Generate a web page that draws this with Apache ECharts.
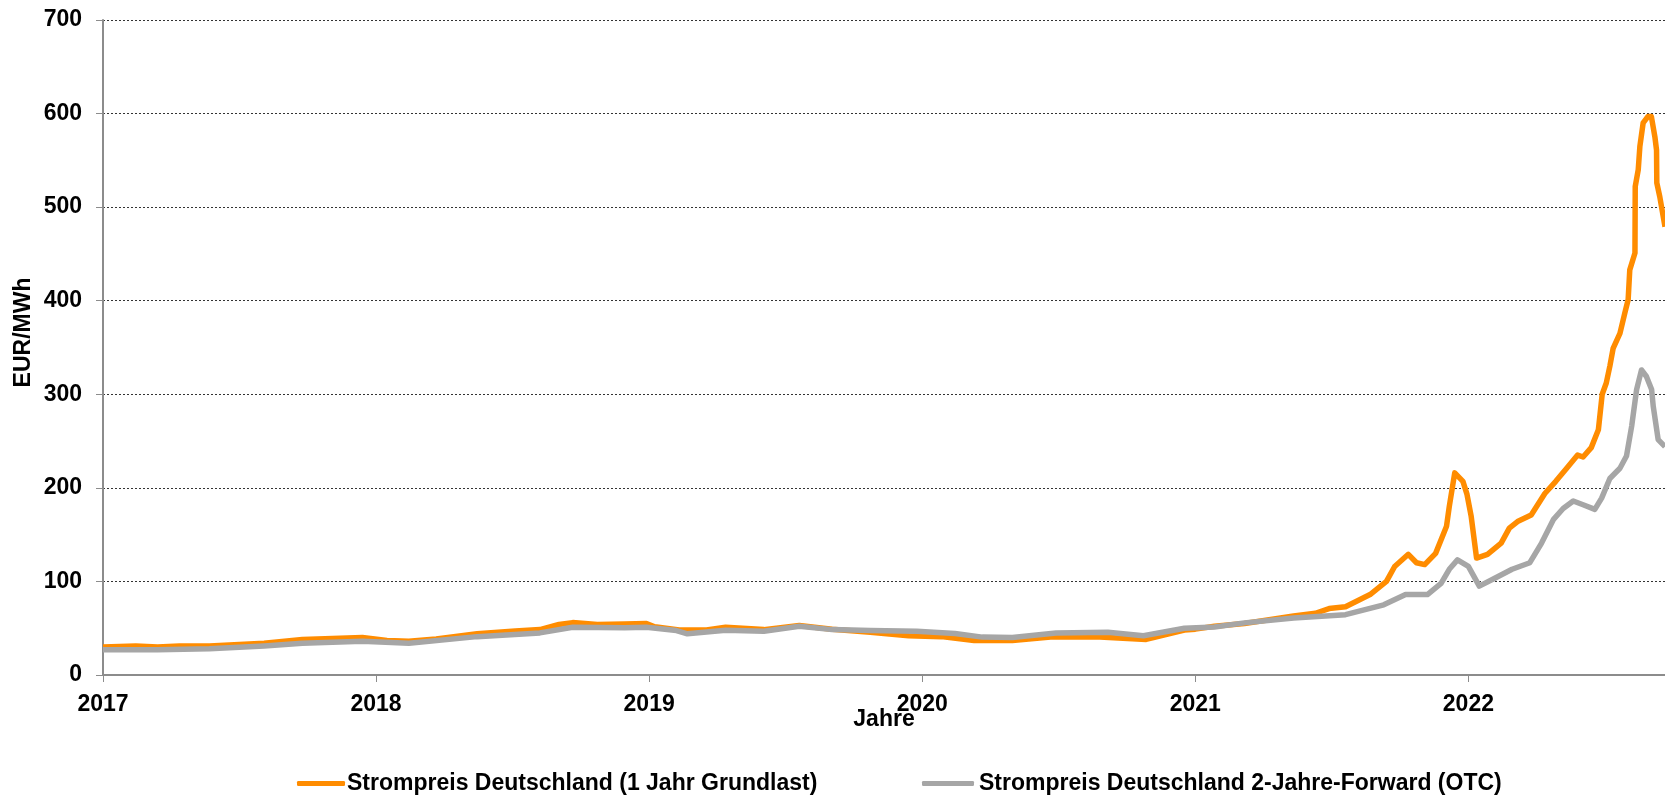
<!DOCTYPE html>
<html>
<head>
<meta charset="utf-8">
<script src="https://cdn.jsdelivr.net/npm/echarts@6/dist/echarts.min.js"></script>
<style>
  html, body { margin: 0; padding: 0; background: #fff; }
  #chart { width: 1665px; height: 796px; }
</style>
</head>
<body>
<div id="chart"></div>
<script>
// decimal year, EUR/MWh
var grundlast = [
  [2017.00, 30], [2017.12, 31], [2017.20, 30], [2017.28, 31], [2017.39, 31],
  [2017.59, 34], [2017.73, 38], [2017.95, 40], [2018.04, 37], [2018.12, 36],
  [2018.22, 38.5], [2018.37, 44], [2018.51, 47], [2018.60, 48.5], [2018.67, 54],
  [2018.72, 56], [2018.81, 54], [2018.91, 54.5], [2018.99, 55], [2019.02, 51.5],
  [2019.11, 48], [2019.21, 48], [2019.28, 51], [2019.42, 48.5], [2019.55, 53],
  [2019.67, 49], [2019.81, 45.6], [2019.95, 42], [2020.07, 41], [2020.19, 36.8],
  [2020.33, 36.8], [2020.47, 40.5], [2020.65, 40.5], [2020.82, 38], [2020.96, 48],
  [2021.00, 49], [2021.07, 52], [2021.18, 55], [2021.36, 63], [2021.44, 66],
  [2021.49, 71], [2021.55, 73], [2021.64, 86], [2021.70, 100], [2021.73, 116],
  [2021.78, 129], [2021.81, 120], [2021.84, 118], [2021.88, 130], [2021.92, 159],
  [2021.93, 180], [2021.95, 216], [2021.98, 207], [2021.995, 193], [2022.01, 170],
  [2022.03, 125], [2022.07, 129], [2022.12, 141], [2022.15, 157], [2022.18, 164],
  [2022.23, 171], [2022.28, 194], [2022.32, 207], [2022.36, 221], [2022.40, 235],
  [2022.42, 233], [2022.45, 243], [2022.476, 262], [2022.49, 300], [2022.505, 312],
  [2022.518, 330], [2022.530, 349], [2022.555, 365], [2022.573, 387], [2022.585, 401],
  [2022.591, 433], [2022.610, 451], [2022.611, 522], [2022.622, 540], [2022.628, 565],
  [2022.640, 590], [2022.658, 597], [2022.670, 597], [2022.683, 575], [2022.689, 561],
  [2022.690, 526], [2022.701, 511], [2022.720, 479]
];

var forward = [
  [2017.00, 27], [2017.20, 27], [2017.39, 28], [2017.59, 31], [2017.73, 34],
  [2017.95, 36], [2018.12, 34], [2018.37, 41], [2018.60, 45], [2018.72, 51],
  [2018.91, 50.5], [2018.99, 51], [2019.10, 47.5], [2019.14, 44], [2019.28, 47.8],
  [2019.42, 46.8], [2019.55, 52], [2019.67, 48.5], [2019.81, 47.5], [2019.98, 46.8],
  [2020.12, 44.3], [2020.22, 40.5], [2020.33, 40], [2020.49, 45], [2020.68, 45.6],
  [2020.81, 42], [2020.96, 50], [2021.07, 51.4], [2021.18, 55.7], [2021.36, 61],
  [2021.55, 64.5], [2021.69, 75], [2021.77, 86], [2021.85, 86], [2021.90, 98],
  [2021.93, 113], [2021.96, 123], [2022.00, 116], [2022.04, 95], [2022.10, 104],
  [2022.16, 113], [2022.225, 120], [2022.268, 141], [2022.311, 166], [2022.347, 178],
  [2022.384, 186], [2022.420, 182], [2022.463, 177], [2022.488, 189], [2022.518, 210],
  [2022.555, 221], [2022.579, 234], [2022.598, 266], [2022.616, 305], [2022.634, 326],
  [2022.652, 319], [2022.671, 305], [2022.677, 287], [2022.695, 251.5], [2022.720, 244]
];

var yearTicks = [2017, 2018, 2019, 2020, 2021, 2022];
var seriesNames = [
  'Strompreis Deutschland (1 Jahr Grundlast)',
  'Strompreis Deutschland 2-Jahre-Forward (OTC)'
];

var font = "'Liberation Sans', Arial, sans-serif";
var textBase = { color: '#000', fontFamily: font, fontWeight: 'bold', fontSize: 23 };

var chart = echarts.init(document.getElementById('chart'));

chart.setOption({
  animation: false,
  backgroundColor: '#fff',
  grid: { left: 103, right: 0, top: 20, bottom: 121, containLabel: false },
  legend: [
    {
      data: [seriesNames[0]], left: 292, top: 767,
      itemWidth: 48, itemHeight: 5, icon: 'roundRect', itemGap: 0,
      itemStyle: { color: '#FF8C00' },
      textStyle: Object.assign({}, textBase, { padding: [0, 0, 0, -3] })
    },
    {
      data: [seriesNames[1]], left: 917, top: 767,
      itemWidth: 52, itemHeight: 5, icon: 'roundRect', itemGap: 0,
      itemStyle: { color: '#A6A6A6' },
      textStyle: Object.assign({}, textBase, { padding: [0, 0, 0, 0] })
    }
  ],
  xAxis: {
    type: 'value',
    min: 2017,
    max: 2022.72,
    interval: 1,
    name: 'Jahre',
    nameLocation: 'middle',
    nameGap: 33,
    nameMoveOverlap: false,
    nameTextStyle: textBase,
    axisLine: { lineStyle: { color: '#8c8c8c', width: 2 } },
    axisTick: { show: true, length: 7, lineStyle: { color: '#8c8c8c', width: 1 } },
    axisLabel: Object.assign({}, textBase, {
      margin: 18,
      showMaxLabel: false,
      formatter: function (v) {
        return yearTicks.indexOf(v) >= 0 ? String(v) : '';
      }
    }),
    splitLine: { show: false }
  },
  yAxis: {
    type: 'value',
    min: 0,
    max: 700,
    interval: 100,
    name: 'EUR/MWh',
    nameLocation: 'middle',
    nameGap: 68,
    nameMoveOverlap: false,
    nameTextStyle: Object.assign({}, textBase, { padding: [0, 0, 0, 30] }),
    axisLine: { show: true, lineStyle: { color: '#8c8c8c', width: 2 } },
    axisTick: { show: true, length: 7, lineStyle: { color: '#8c8c8c', width: 1 } },
    axisLabel: Object.assign({}, textBase, { margin: 21 }),
    splitLine: { show: true, lineStyle: { color: '#333', type: [2, 2], width: 1 } }
  },
  series: [
    {
      name: seriesNames[0],
      type: 'line',
      data: grundlast,
      showSymbol: false,
      symbol: 'none',
      color: '#FF8C00',
      lineStyle: { color: '#FF8C00', width: 5.5, join: 'round' }
    },
    {
      name: seriesNames[1],
      type: 'line',
      data: forward,
      showSymbol: false,
      symbol: 'none',
      color: '#A6A6A6',
      lineStyle: { color: '#A6A6A6', width: 5.5, join: 'round' }
    }
  ]
});
</script>
</body>
</html>
